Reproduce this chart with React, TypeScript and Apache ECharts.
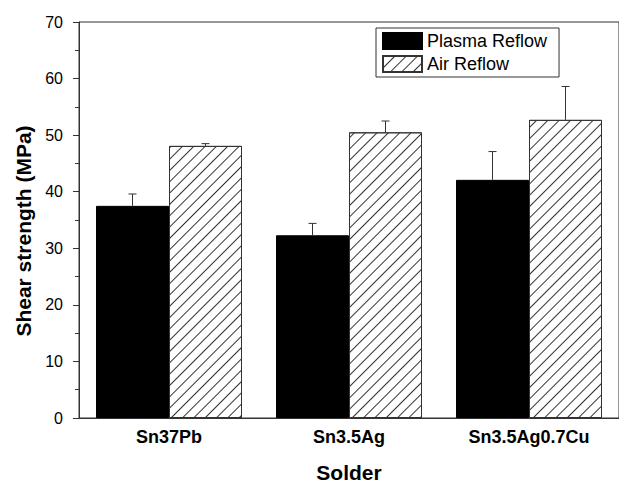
import React, { useEffect, useRef } from "react";
import * as echarts from "echarts";

const categories = ["Sn37Pb", "Sn3.5Ag", "Sn3.5Ag0.7Cu"];
const plasmaValues = [37.5, 32.3, 42.1];
const plasmaErrors = [2.1, 2.1, 5.0];
const airValues = [48.1, 50.5, 52.7];
const airErrors = [0.4, 2.0, 5.9];
const seriesNames = ["Plasma Reflow", "Air Reflow"];

const BAR_W = 73;
const LINE = "#333";

function errorSeries(values: number[], errors: number[], offset: number) {
  return {
    type: "custom",
    silent: true,
    z: 5,
    data: values.map((v, i) => [i, v, errors[i]]),
    renderItem: (params: any, api: any) => {
      const x = api.value(0);
      const v = api.value(1);
      const e = api.value(2);
      const p0 = api.coord([x, v]);
      const p1 = api.coord([x, v + e]);
      const cx = p0[0] + offset;
      return {
        type: "group",
        children: [
          { type: "line", shape: { x1: cx, y1: p0[1], x2: cx, y2: p1[1] }, style: { stroke: LINE, lineWidth: 1 } },
          { type: "line", shape: { x1: cx - 4, y1: p1[1], x2: cx + 4, y2: p1[1] }, style: { stroke: LINE, lineWidth: 1 } },
        ],
      };
    },
  };
}

export default function App() {
  const ref = useRef<HTMLDivElement>(null);
  useEffect(() => {
    const chart = echarts.init(ref.current!, undefined, { renderer: "svg" });
    chart.setOption({
      animation: false,
      backgroundColor: "#fff",
      textStyle: { fontFamily: "Liberation Sans, Arial, sans-serif" },
      grid: { left: 79, top: 22, width: 549, height: 403, show: true, borderColor: LINE, borderWidth: 1, containLabel: false },
      legend: {
        data: seriesNames,
        orient: "vertical",
        left: 376,
        top: 28,
        icon: "rect",
        itemWidth: 39,
        itemHeight: 16,
        itemGap: 5,
        padding: [4, 12, 4, 6],
        borderColor: LINE,
        borderWidth: 1,
        backgroundColor: "#fff",
        textStyle: { fontSize: 18, color: "#000" },
      },
      xAxis: {
        type: "category",
        data: categories,
        axisLine: { lineStyle: { color: LINE, width: 1 } },
        axisTick: { show: false },
        axisLabel: { fontSize: 18, fontWeight: "bold", color: "#000", margin: 10 },
        name: "Solder",
        nameLocation: "middle",
        nameGap: 44,
        nameTextStyle: { fontSize: 21, fontWeight: "bold", color: "#000" },
      },
      yAxis: {
        type: "value",
        min: 0,
        max: 70,
        interval: 10,
        axisLine: { show: true, lineStyle: { color: LINE, width: 1 } },
        axisTick: { show: true, length: 6, lineStyle: { color: LINE } },
        minorTick: { show: true, splitNumber: 2, length: 4, lineStyle: { color: LINE } },
        splitLine: { show: false },
        axisLabel: { fontSize: 16, color: "#000", margin: 16 },
      },
      graphic: [
        {
          type: "text",
          x: 23,
          y: 231,
          rotation: Math.PI / 2,
          style: {
            text: "Shear strength (MPa)",
            fontSize: 21,
            fontWeight: "bold",
            fill: "#000",
            align: "center",
            verticalAlign: "middle",
            fontFamily: "Liberation Sans, Arial, sans-serif",
          },
        },
      ],
      series: [
        {
          name: seriesNames[0],
          type: "bar",
          data: plasmaValues,
          barWidth: BAR_W,
          barGap: "0%",
          itemStyle: { color: "#000", borderColor: "#000", borderWidth: 1 },
        },
        {
          name: seriesNames[1],
          type: "bar",
          data: airValues,
          barWidth: BAR_W,
          barGap: "0%",
          itemStyle: {
            color: "#fff",
            borderColor: LINE,
            borderWidth: 1,
            decal: {
              symbol: "rect",
              symbolSize: 1,
              dashArrayX: [[1, 0]],
              dashArrayY: [1, 7],
              rotation: -Math.PI / 4,
              color: LINE,
              backgroundColor: "#fff",
            },
          },
        },
        errorSeries(plasmaValues, plasmaErrors, -BAR_W / 2),
        errorSeries(airValues, airErrors, BAR_W / 2),
      ],
    });
    return () => chart.dispose();
  }, []);
  return <div ref={ref} style={{ position: "fixed", left: 0, top: 0, width: 619, height: 488 }} />;
}
